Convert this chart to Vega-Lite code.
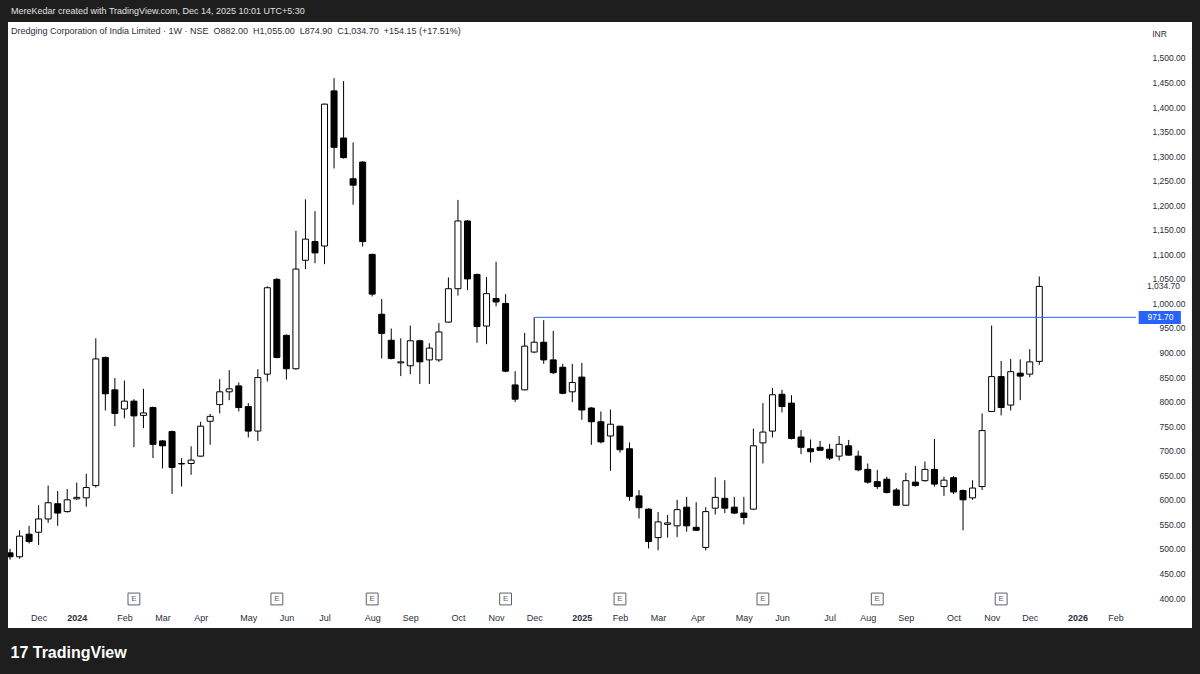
{
  "$schema": "https://vega.github.io/schema/vega-lite/v6.json",
  "width": 1184,
  "height": 606,
  "autosize": {"type": "none"},
  "padding": {"left": 8, "top": 22, "right": 8, "bottom": 46},
  "background": "#1e1e1e",
  "config": {
    "view": {"fill": "#ffffff", "stroke": null},
    "font": "Liberation Sans",
    "axis": {"labelOverlap": false, "labelFlush": false, "grid": false, "ticks": false, "domain": false}
  },
  "title": {
    "text": "MereKedar created with TradingView.com, Dec 14, 2025 10:01 UTC+5:30",
    "subtitle": "Dredging Corporation of India Limited · 1W · NSE \u00a0O882.00 \u00a0H1,055.00 \u00a0L874.90 \u00a0C1,034.70 \u00a0+154.15 (+17.51%)",
    "anchor": "start",
    "frame": "group",
    "offset": -14,
    "dx": 3,
    "font": "Liberation Sans",
    "fontSize": 9,
    "fontWeight": "normal",
    "color": "#e0e0e0",
    "subtitleFont": "Liberation Sans",
    "subtitleFontSize": 9,
    "subtitleColor": "#2a2e39",
    "subtitlePadding": 11
  },
  "datasets": {
    "candles": [
      {"d": "2023-11-13", "o": 492, "h": 500, "l": 478, "c": 484},
      {"d": "2023-11-20", "o": 484, "h": 538, "l": 480, "c": 526},
      {"d": "2023-11-27", "o": 530, "h": 547, "l": 511, "c": 515},
      {"d": "2023-12-04", "o": 534, "h": 589, "l": 508, "c": 561},
      {"d": "2023-12-11", "o": 561, "h": 629, "l": 553, "c": 594},
      {"d": "2023-12-18", "o": 592, "h": 618, "l": 547, "c": 573},
      {"d": "2023-12-25", "o": 576, "h": 622, "l": 574, "c": 600},
      {"d": "2024-01-01", "o": 602, "h": 635, "l": 600, "c": 605},
      {"d": "2024-01-08", "o": 604, "h": 653, "l": 586, "c": 625},
      {"d": "2024-01-15", "o": 629, "h": 929, "l": 625, "c": 887},
      {"d": "2024-01-22", "o": 890, "h": 892, "l": 782, "c": 816},
      {"d": "2024-01-29", "o": 824, "h": 848, "l": 750, "c": 776},
      {"d": "2024-02-05", "o": 785, "h": 843, "l": 766, "c": 801},
      {"d": "2024-02-12", "o": 801, "h": 805, "l": 707, "c": 771},
      {"d": "2024-02-19", "o": 772, "h": 826, "l": 746, "c": 777},
      {"d": "2024-02-26", "o": 788, "h": 790, "l": 685, "c": 713},
      {"d": "2024-03-04", "o": 720, "h": 722, "l": 664, "c": 710},
      {"d": "2024-03-11", "o": 739, "h": 741, "l": 612, "c": 666},
      {"d": "2024-03-18", "o": 673, "h": 685, "l": 627, "c": 674},
      {"d": "2024-03-25", "o": 674, "h": 709, "l": 651, "c": 681},
      {"d": "2024-04-01", "o": 689, "h": 759, "l": 688, "c": 750},
      {"d": "2024-04-08", "o": 760, "h": 775, "l": 712, "c": 770},
      {"d": "2024-04-15", "o": 794, "h": 846, "l": 776, "c": 820},
      {"d": "2024-04-22", "o": 820, "h": 864, "l": 803, "c": 826},
      {"d": "2024-04-29", "o": 832, "h": 839, "l": 780, "c": 788},
      {"d": "2024-05-06", "o": 790, "h": 797, "l": 727, "c": 740},
      {"d": "2024-05-13", "o": 740, "h": 866, "l": 720, "c": 849},
      {"d": "2024-05-20", "o": 856, "h": 1035, "l": 841, "c": 1032},
      {"d": "2024-05-27", "o": 1049, "h": 1052, "l": 888, "c": 890},
      {"d": "2024-06-03", "o": 935, "h": 937, "l": 845, "c": 867},
      {"d": "2024-06-10", "o": 867, "h": 1148, "l": 865, "c": 1070},
      {"d": "2024-06-17", "o": 1088, "h": 1212, "l": 1070, "c": 1131},
      {"d": "2024-06-24", "o": 1126, "h": 1188, "l": 1082, "c": 1103},
      {"d": "2024-07-01", "o": 1117, "h": 1407, "l": 1080, "c": 1406},
      {"d": "2024-07-08", "o": 1433, "h": 1459, "l": 1275, "c": 1318},
      {"d": "2024-07-15", "o": 1337, "h": 1453, "l": 1295, "c": 1297},
      {"d": "2024-07-22", "o": 1254, "h": 1328, "l": 1201, "c": 1241},
      {"d": "2024-07-29", "o": 1288, "h": 1290, "l": 1116, "c": 1126},
      {"d": "2024-08-05", "o": 1100, "h": 1101, "l": 1014, "c": 1019},
      {"d": "2024-08-12", "o": 978, "h": 1009, "l": 888, "c": 939},
      {"d": "2024-08-19", "o": 925, "h": 949, "l": 886, "c": 888},
      {"d": "2024-08-26", "o": 879, "h": 929, "l": 852, "c": 881},
      {"d": "2024-09-02", "o": 873, "h": 955, "l": 856, "c": 924},
      {"d": "2024-09-09", "o": 924, "h": 926, "l": 836, "c": 881},
      {"d": "2024-09-16", "o": 885, "h": 919, "l": 836, "c": 909},
      {"d": "2024-09-23", "o": 885, "h": 960, "l": 881, "c": 942},
      {"d": "2024-09-30", "o": 962, "h": 1053, "l": 961, "c": 1030},
      {"d": "2024-10-07", "o": 1030, "h": 1211, "l": 1016, "c": 1168},
      {"d": "2024-10-14", "o": 1168, "h": 1170, "l": 1027, "c": 1050},
      {"d": "2024-10-21", "o": 1059, "h": 1061, "l": 920, "c": 953},
      {"d": "2024-10-28", "o": 954, "h": 1054, "l": 917, "c": 1020},
      {"d": "2024-11-04", "o": 1010, "h": 1085, "l": 994, "c": 1003},
      {"d": "2024-11-11", "o": 1000, "h": 1019, "l": 860, "c": 862},
      {"d": "2024-11-18", "o": 834, "h": 862, "l": 799, "c": 805},
      {"d": "2024-11-25", "o": 824, "h": 940, "l": 823, "c": 913},
      {"d": "2024-12-02", "o": 901, "h": 971.7, "l": 899, "c": 921},
      {"d": "2024-12-09", "o": 921, "h": 966, "l": 877, "c": 885},
      {"d": "2024-12-16", "o": 885, "h": 944, "l": 856, "c": 859},
      {"d": "2024-12-23", "o": 870, "h": 877, "l": 815, "c": 817},
      {"d": "2024-12-30", "o": 820, "h": 877, "l": 799, "c": 839},
      {"d": "2025-01-06", "o": 850, "h": 879, "l": 763, "c": 783},
      {"d": "2025-01-13", "o": 787, "h": 789, "l": 712, "c": 759},
      {"d": "2025-01-20", "o": 759, "h": 780, "l": 715, "c": 718},
      {"d": "2025-01-27", "o": 730, "h": 784, "l": 659, "c": 754},
      {"d": "2025-02-03", "o": 750, "h": 751, "l": 696, "c": 702},
      {"d": "2025-02-10", "o": 704, "h": 717, "l": 598, "c": 607},
      {"d": "2025-02-17", "o": 608, "h": 620, "l": 562, "c": 584},
      {"d": "2025-02-24", "o": 581, "h": 583, "l": 501, "c": 515},
      {"d": "2025-03-03", "o": 523, "h": 575, "l": 497, "c": 555},
      {"d": "2025-03-10", "o": 550, "h": 569, "l": 523, "c": 553},
      {"d": "2025-03-17", "o": 547, "h": 600, "l": 524, "c": 580},
      {"d": "2025-03-24", "o": 585, "h": 606, "l": 535, "c": 547},
      {"d": "2025-03-31", "o": 544, "h": 595, "l": 537, "c": 538},
      {"d": "2025-04-07", "o": 503, "h": 585, "l": 497, "c": 576},
      {"d": "2025-04-14", "o": 583, "h": 646, "l": 570, "c": 605},
      {"d": "2025-04-21", "o": 603, "h": 640, "l": 573, "c": 583},
      {"d": "2025-04-28", "o": 585, "h": 606, "l": 571, "c": 573},
      {"d": "2025-05-05", "o": 573, "h": 606, "l": 550, "c": 564},
      {"d": "2025-05-12", "o": 581, "h": 745, "l": 580, "c": 710},
      {"d": "2025-05-19", "o": 716, "h": 797, "l": 674, "c": 738},
      {"d": "2025-05-26", "o": 740, "h": 828, "l": 727, "c": 814},
      {"d": "2025-06-02", "o": 815, "h": 824, "l": 778, "c": 790},
      {"d": "2025-06-09", "o": 797, "h": 813, "l": 723, "c": 725},
      {"d": "2025-06-16", "o": 728, "h": 742, "l": 693, "c": 707},
      {"d": "2025-06-23", "o": 704, "h": 723, "l": 676, "c": 698},
      {"d": "2025-06-30", "o": 707, "h": 720, "l": 700, "c": 701},
      {"d": "2025-07-07", "o": 703, "h": 714, "l": 681, "c": 685},
      {"d": "2025-07-14", "o": 689, "h": 730, "l": 680, "c": 713},
      {"d": "2025-07-21", "o": 710, "h": 722, "l": 690, "c": 691},
      {"d": "2025-07-28", "o": 689, "h": 700, "l": 658, "c": 661},
      {"d": "2025-08-04", "o": 662, "h": 674, "l": 633, "c": 636},
      {"d": "2025-08-11", "o": 637, "h": 661, "l": 622, "c": 627},
      {"d": "2025-08-18", "o": 642, "h": 647, "l": 613, "c": 615},
      {"d": "2025-08-25", "o": 620, "h": 624, "l": 588, "c": 589},
      {"d": "2025-09-01", "o": 589, "h": 655, "l": 588, "c": 639},
      {"d": "2025-09-08", "o": 636, "h": 669, "l": 627, "c": 629},
      {"d": "2025-09-15", "o": 639, "h": 678, "l": 637, "c": 662},
      {"d": "2025-09-22", "o": 662, "h": 724, "l": 627, "c": 632},
      {"d": "2025-09-29", "o": 627, "h": 647, "l": 608, "c": 640},
      {"d": "2025-10-06", "o": 645, "h": 648, "l": 612, "c": 616},
      {"d": "2025-10-13", "o": 619, "h": 621, "l": 538, "c": 600},
      {"d": "2025-10-20", "o": 604, "h": 640, "l": 600, "c": 624},
      {"d": "2025-10-27", "o": 627, "h": 776, "l": 620, "c": 741},
      {"d": "2025-11-03", "o": 780, "h": 955, "l": 779, "c": 851},
      {"d": "2025-11-10", "o": 851, "h": 883, "l": 772, "c": 788},
      {"d": "2025-11-17", "o": 793, "h": 887, "l": 782, "c": 861},
      {"d": "2025-11-24", "o": 858, "h": 886, "l": 803, "c": 852},
      {"d": "2025-12-01", "o": 856, "h": 907, "l": 850, "c": 881},
      {"d": "2025-12-08", "o": 882, "h": 1055, "l": 874.9, "c": 1034.7}
    ],
    "earnings": [
      {"d": "2024-02-12"}, {"d": "2024-05-27"}, {"d": "2024-08-05"}, {"d": "2024-11-11"},
      {"d": "2025-02-03"}, {"d": "2025-05-19"}, {"d": "2025-08-11"}, {"d": "2025-11-10"}
    ]
  },
  "layer": [
    {
      "data": {"name": "candles"},
      "mark": {"type": "rule", "color": "#000000", "strokeWidth": 1, "clip": true},
      "encoding": {
        "x": {
          "field": "d", "type": "temporal",
          "scale": {"type": "utc", "domain": [
            {"year": 2023, "month": 11, "date": 15, "hours": 4, "minutes": 20, "utc": true},
            {"year": 2026, "month": 3, "date": 26, "hours": 12, "utc": true}
          ]},
          "axis": {
            "orient": "bottom", "offset": -16, "domain": false, "ticks": false, "grid": false,
            "tickCount": 60,
            "labelPadding": 1, "labelFontSize": 9, "labelColor": "#2a2e39", "labelFont": "Liberation Sans",
            "labelFontWeight": {"condition": {"test": "utcmonth(datum.value) == 0", "value": "bold"}, "value": "normal"},
            "labelOverlap": false, "labelFlush": false,
            "labelExpr": "utcmonth(datum.value) == 0 ? utcFormat(datum.value, '%Y') : utcFormat(datum.value, '%b')",
            "values": [
              {"year": 2023, "month": 12, "date": 4, "utc": true},
              {"year": 2024, "month": 1, "date": 1, "utc": true},
              {"year": 2024, "month": 2, "date": 5, "utc": true},
              {"year": 2024, "month": 3, "date": 4, "utc": true},
              {"year": 2024, "month": 4, "date": 1, "utc": true},
              {"year": 2024, "month": 5, "date": 6, "utc": true},
              {"year": 2024, "month": 6, "date": 3, "utc": true},
              {"year": 2024, "month": 7, "date": 1, "utc": true},
              {"year": 2024, "month": 8, "date": 5, "utc": true},
              {"year": 2024, "month": 9, "date": 2, "utc": true},
              {"year": 2024, "month": 10, "date": 7, "utc": true},
              {"year": 2024, "month": 11, "date": 4, "utc": true},
              {"year": 2024, "month": 12, "date": 2, "utc": true},
              {"year": 2025, "month": 1, "date": 6, "utc": true},
              {"year": 2025, "month": 2, "date": 3, "utc": true},
              {"year": 2025, "month": 3, "date": 3, "utc": true},
              {"year": 2025, "month": 4, "date": 1, "utc": true},
              {"year": 2025, "month": 5, "date": 5, "utc": true},
              {"year": 2025, "month": 6, "date": 2, "utc": true},
              {"year": 2025, "month": 7, "date": 7, "utc": true},
              {"year": 2025, "month": 8, "date": 4, "utc": true},
              {"year": 2025, "month": 9, "date": 1, "utc": true},
              {"year": 2025, "month": 10, "date": 6, "utc": true},
              {"year": 2025, "month": 11, "date": 3, "utc": true},
              {"year": 2025, "month": 12, "date": 1, "utc": true},
              {"year": 2026, "month": 1, "date": 5, "utc": true},
              {"year": 2026, "month": 2, "date": 2, "utc": true}
            ],
            "title": "17 TradingView",
            "titleColor": "#ffffff", "titleFontSize": 16, "titleFontWeight": "bold", "titleFont": "Liberation Sans",
            "titleAnchor": "start", "titleAlign": "left", "titleBaseline": "middle", "titleX": 2, "titleY": 40
          }
        },
        "y": {
          "field": "l", "type": "quantitative",
          "scale": {"domain": [338.9, 1573.3], "nice": false, "zero": false},
          "axis": {
            "orient": "right", "offset": -7, "domain": false, "ticks": false, "grid": false,
            "tickCount": 60,
            "labelAlign": "right", "labelPadding": 0, "labelFontSize": 8.5, "labelColor": "#2a2e39",
            "labelFont": "Liberation Sans", "labelOverlap": false, "labelFlush": false,
            "format": ",.2f", "zindex": 0,
            "values": [400, 450, 500, 550, 600, 650, 700, 750, 800, 850, 900, 950, 1000, 1050, 1100, 1150, 1200, 1250, 1300, 1350, 1400, 1450, 1500],
            "title": "INR", "titleAngle": 0, "titleFontSize": 8.5, "titleFontWeight": "normal", "titleColor": "#2a2e39",
            "titleAlign": "center", "titleBaseline": "middle", "titleX": -26, "titleY": 11
          }
        },
        "y2": {"field": "h"}
      }
    },
    {
      "data": {"name": "candles"},
      "mark": {"type": "bar", "size": 6, "stroke": "#000000", "strokeWidth": 1, "clip": true},
      "encoding": {
        "x": {"field": "d", "type": "temporal"},
        "y": {"field": "o", "type": "quantitative"},
        "y2": {"field": "c"},
        "fill": {"condition": {"test": "datum.c >= datum.o", "value": "#ffffff"}, "value": "#000000"}
      }
    },
    {
      "data": {"values": [{}]},
      "mark": {"type": "rule", "color": "#2962ff", "strokeWidth": 1},
      "encoding": {
        "x": {"datum": {"year": 2024, "month": 12, "date": 2, "utc": true}, "type": "temporal"},
        "x2": {"datum": {"year": 2026, "month": 2, "date": 17, "utc": true}},
        "y": {"datum": 971.7, "type": "quantitative"}
      }
    },
    {
      "data": {"values": [{}]},
      "mark": {"type": "rect", "color": "#2962ff"},
      "encoding": {
        "x": {"datum": {"year": 2026, "month": 2, "date": 19, "utc": true}, "type": "temporal"},
        "x2": {"datum": {"year": 2026, "month": 3, "date": 22, "utc": true}},
        "y": {"datum": 984.5, "type": "quantitative"},
        "y2": {"datum": 958.2}
      }
    },
    {
      "data": {"values": [{"t": "971.70"}]},
      "mark": {"type": "text", "color": "#ffffff", "fontSize": 8.5, "font": "Liberation Sans", "align": "center", "baseline": "middle"},
      "encoding": {
        "x": {"datum": {"year": 2026, "month": 3, "date": 7, "utc": true}, "type": "temporal"},
        "y": {"datum": 971.7, "type": "quantitative"},
        "text": {"field": "t"}
      }
    },
    {
      "data": {"values": [{}]},
      "mark": {"type": "rect", "color": "#ffffff"},
      "encoding": {
        "x": {"datum": {"year": 2026, "month": 2, "date": 22, "hours": 12, "utc": true}, "type": "temporal"},
        "x2": {"datum": {"year": 2026, "month": 3, "date": 23, "utc": true}},
        "y": {"datum": 1042.5, "type": "quantitative"},
        "y2": {"datum": 1026.5}
      }
    },
    {
      "data": {"values": [{"t": "1,034.70"}]},
      "mark": {"type": "text", "color": "#2a2e39", "fontSize": 8.5, "font": "Liberation Sans", "align": "right", "baseline": "middle"},
      "encoding": {
        "x": {"datum": {"year": 2026, "month": 3, "date": 21, "hours": 10, "utc": true}, "type": "temporal"},
        "y": {"datum": 1034.7, "type": "quantitative"},
        "text": {"field": "t"}
      }
    },
    {
      "data": {"name": "earnings"},
      "mark": {"type": "point", "shape": "square", "size": 140, "filled": true, "fill": "#ffffff", "stroke": "#5d606b", "strokeWidth": 1, "opacity": 1},
      "encoding": {
        "x": {"field": "d", "type": "temporal"},
        "y": {"datum": 398, "type": "quantitative"}
      }
    },
    {
      "data": {"name": "earnings"},
      "mark": {"type": "text", "text": "E", "fontSize": 8, "color": "#5d606b", "font": "Liberation Sans", "align": "center", "baseline": "middle"},
      "encoding": {
        "x": {"field": "d", "type": "temporal"},
        "y": {"datum": 398, "type": "quantitative"}
      }
    }
  ]
}
